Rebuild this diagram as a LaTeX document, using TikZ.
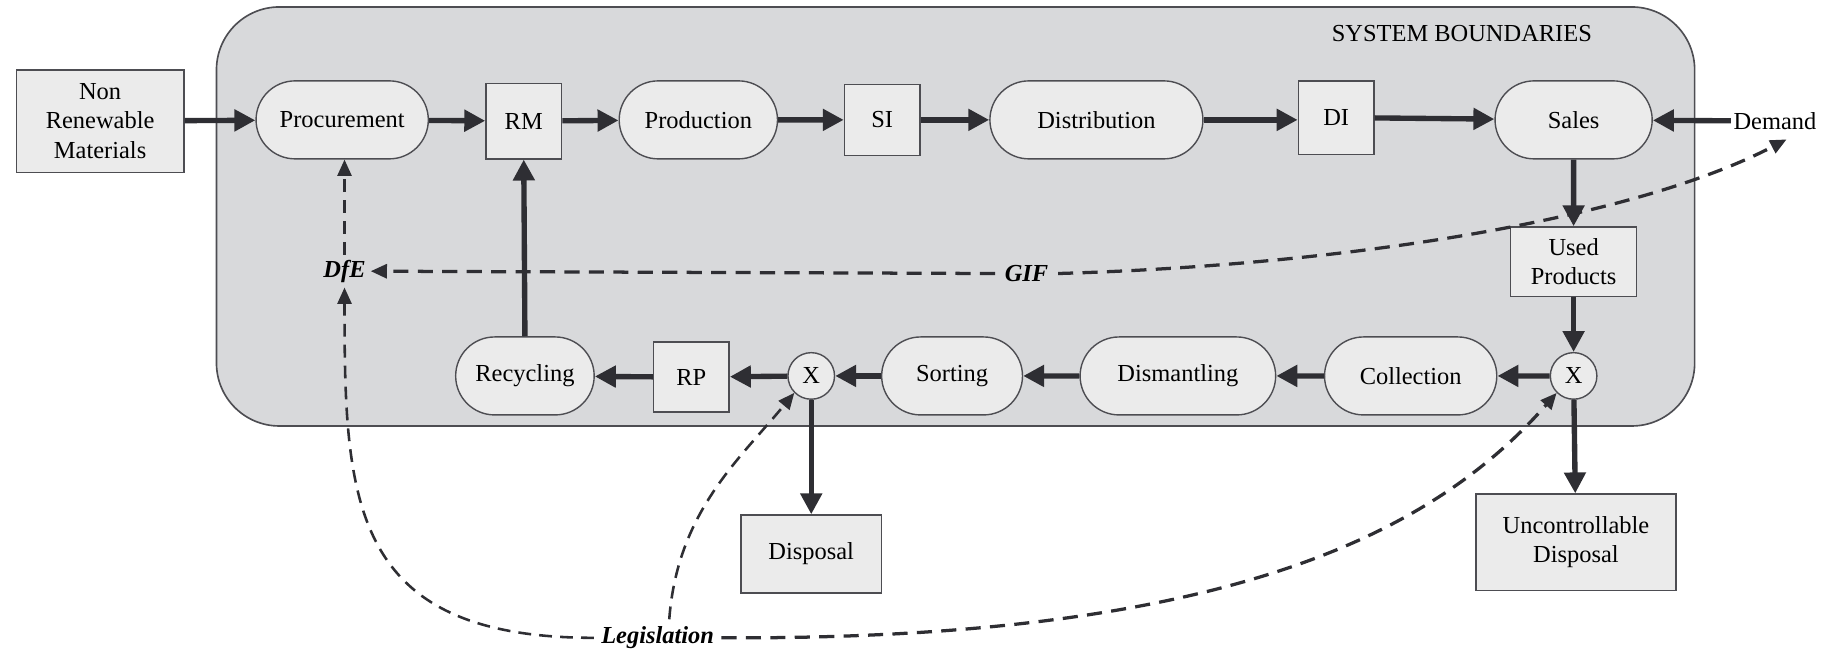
\documentclass[tikz,border=0pt]{standalone}
\usepackage{fontspec}
\setmainfont{Liberation Serif}
\usetikzlibrary{arrows.meta,shapes.misc,calc}
\definecolor{boundfill}{HTML}{D8D9DB}
\definecolor{nodefill}{HTML}{EBEBEB}
\definecolor{ink}{HTML}{2E2E33}
\begin{document}
\begin{tikzpicture}[x=0.5pt,y=-0.5pt,
  every node/.style={font=\fontsize{10.5}{12.6}\selectfont, text=black},
  proc/.style={draw=ink!85, line width=0.6pt, fill=nodefill, rounded rectangle,
               minimum height=33.5pt, inner sep=0pt},
  store/.style={draw=ink!85, line width=0.6pt, fill=nodefill, rectangle,
                inner sep=0pt, align=center},
  junc/.style={draw=ink!85, line width=0.6pt, fill=nodefill, circle,
               minimum size=20pt, inner sep=0pt},
  flow/.style={draw=ink, line width=2.3pt, -{Triangle[length=9pt,width=9pt]}},
  info/.style={draw=ink, line width=1.4pt, dash pattern=on 6.5pt off 4pt,
               -{Triangle[length=7pt,width=6pt]}},
  infothin/.style={info, line width=1.1pt, dash pattern=on 5.5pt off 3.5pt},
  lbl/.style={font=\fontsize{10.5}{12.6}\selectfont\bfseries\itshape}]

\useasboundingbox (0,0) rectangle (1568,560);

% system boundary
\draw[fill=boundfill, draw=ink!85, line width=0.7pt, rounded corners=27pt]
  (186,6) rectangle (1456,366);
\node (sysb) at (1256,29) {SYSTEM BOUNDARIES};

% forward chain
\node[store, minimum width=72pt, minimum height=44pt] (nrm) at (86,104)
  {Non\\Renewable\\Materials};
\node[proc, minimum width=74pt] (proc) at (294,103) {Procurement};
\node[store, minimum width=32.5pt, minimum height=32.5pt] (rm) at (450,104) {RM};
\node[proc, minimum width=68pt] (prod) at (600,103) {Production};
\node[store, minimum width=32.5pt, minimum height=30.5pt] (si) at (758,103) {SI};
\node[proc, minimum width=91.5pt] (dist) at (942,103) {Distribution};
\node[store, minimum width=32.5pt, minimum height=31.5pt] (di) at (1148,101) {DI};
\node[proc, minimum width=67.5pt] (sales) at (1352,103) {Sales};
\node[inner sep=1pt] (dem) at (1525,104) {Demand};

% reverse chain
\node[store, minimum width=54pt, minimum height=30pt] (used) at (1352,225)
  {Used\\Products};
\node[junc] (xr) at (1352,323) {X};
\node[proc, minimum width=74pt] (coll) at (1212,323) {Collection};
\node[proc, minimum width=84pt] (dism) at (1012,323) {Dismantling};
\node[proc, minimum width=60.5pt] (sort) at (818,323) {Sorting};
\node[junc] (xl) at (697,323) {X};
\node[store, minimum width=32.5pt, minimum height=30pt] (rp) at (594,324) {RP};
\node[proc, minimum width=59.5pt] (recy) at (451,323) {Recycling};
\node[store, minimum width=60.5pt, minimum height=33.5pt] (disp) at (697,476) {Disposal};
\node[store, minimum width=86pt, minimum height=41.5pt] (udisp) at (1354,466)
  {Uncontrollable\\Disposal};

% information labels
\node[lbl, inner sep=2pt] (dfe) at (296,233) {DfE};
\node[lbl, inner sep=4pt] (gif) at (882,235) {GIF};
\node[lbl, inner sep=3pt] (leg) at (565,548) {Legislation};

% material flows
\draw[flow] (nrm) -- (proc);
\draw[flow] (proc) -- (rm);
\draw[flow] (rm) -- (prod);
\draw[flow] (prod) -- (si);
\draw[flow] (si) -- (dist);
\draw[flow] (dist.east) -- (di.west |- dist.east);
\draw[flow] (di) -- (sales);
\draw[flow] (dem) -- (sales);
\draw[flow] (sales) -- (used);
\draw[flow] (used) -- (xr);
\draw[flow] (xr) -- (coll);
\draw[flow] (coll) -- (dism);
\draw[flow] (dism) -- (sort);
\draw[flow] (sort) -- (xl);
\draw[flow] (xl) -- (rp);
\draw[flow] (rp) -- (recy);
\draw[flow] (recy.north) -- (rm.south);
\draw[flow] (xl) -- (disp);
\draw[flow] (xr) -- (udisp);

% information flows
\draw[infothin] (dfe.north) -- (proc.south -| dfe.north);
\draw[info] (gif.west) -- (dfe.east);
\draw[info] (gif.east) .. controls (1150,228) and (1400,190) ..
  ([xshift=5pt,yshift=-3pt]dem.south);
\draw[infothin] (leg.west) .. controls (300,548) and (296,430) .. (dfe.south);
\draw[infothin] ([xshift=5pt]leg.north) .. controls (582,440) and (635,395) ..
  (xl.south west);
\draw[info] (leg.east) .. controls (1050,550) and (1230,460) .. (xr.south west);
\end{tikzpicture}
\end{document}
